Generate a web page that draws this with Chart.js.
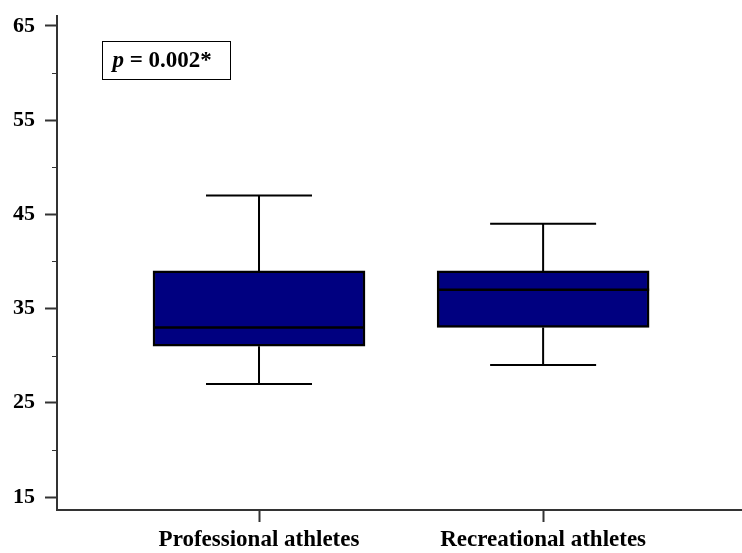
<!DOCTYPE html>
<html lang="en">
  <head>
    <meta charset="UTF-8" />
    <title>Box plot - athletes</title>
    <script src="https://cdn.jsdelivr.net/npm/chart.js"></script>
    <style>
      html, body { margin: 0; padding: 0; background: #fff; }
      #wrap { width: 742px; height: 553px; }
    </style>
  </head>
  <body>
    <div id="wrap"><canvas id="boxChart"></canvas></div>

    <script>
      // data
      const categories = ["Professional athletes", "Recreational athletes"];
      const whiskerMin = [27, 29];
      const q1 = [31, 33];
      const median = [33, 37];
      const q3 = [39, 39];
      const whiskerMax = [47, 44];
      const yTicks = [15, 25, 35, 45, 55, 65];
      const yMinorTicks = [20, 30, 40, 50, 60];
      const pText = "0.002*";

      const serif = '"Liberation Serif", "Times New Roman", serif';
      const axisColor = "#333";
      const boxWidth = 212;

      // whiskers, medians, minor ticks and the p-value box
      const boxExtras = {
        id: "boxExtras",
        beforeDatasetsDraw(chart) {
          const { ctx, scales } = chart;
          const x = scales.x, y = scales.y;
          ctx.save();
          ctx.strokeStyle = "#000";
          ctx.lineWidth = 2;
          categories.forEach((c, i) => {
            const cx = x.getPixelForValue(i + 1);
            const half = boxWidth / 4;
            ctx.beginPath();
            ctx.moveTo(cx, y.getPixelForValue(q3[i]));
            ctx.lineTo(cx, y.getPixelForValue(whiskerMax[i]));
            ctx.moveTo(cx - half, y.getPixelForValue(whiskerMax[i]));
            ctx.lineTo(cx + half, y.getPixelForValue(whiskerMax[i]));
            ctx.moveTo(cx, y.getPixelForValue(q1[i]));
            ctx.lineTo(cx, y.getPixelForValue(whiskerMin[i]));
            ctx.moveTo(cx - half, y.getPixelForValue(whiskerMin[i]));
            ctx.lineTo(cx + half, y.getPixelForValue(whiskerMin[i]));
            ctx.stroke();
          });
          ctx.restore();
        },
        afterDatasetsDraw(chart) {
          const { ctx, scales, chartArea } = chart;
          const x = scales.x, y = scales.y;
          ctx.save();
          // medians
          ctx.strokeStyle = "#000";
          ctx.lineWidth = 2.5;
          categories.forEach((c, i) => {
            const cx = x.getPixelForValue(i + 1);
            const py = y.getPixelForValue(median[i]);
            ctx.beginPath();
            ctx.moveTo(cx - boxWidth / 2, py);
            ctx.lineTo(cx + boxWidth / 2, py);
            ctx.stroke();
          });
          // minor ticks on y axis
          ctx.strokeStyle = axisColor;
          ctx.lineWidth = 1;
          yMinorTicks.forEach((v) => {
            const py = Math.round(y.getPixelForValue(v)) + 0.5;
            ctx.beginPath();
            ctx.moveTo(chartArea.left - 5, py);
            ctx.lineTo(chartArea.left, py);
            ctx.stroke();
          });
          // p-value box
          const bx = chartArea.left + 45.5, by = chartArea.top + 25.5;
          ctx.strokeStyle = "#000";
          ctx.lineWidth = 1;
          ctx.strokeRect(bx, by, 128, 38);
          ctx.fillStyle = "#000";
          ctx.textBaseline = "middle";
          ctx.font = "italic bold 23px " + serif;
          const tx = bx + 10, ty = by + 20;
          ctx.fillText("p", tx, ty);
          const pw = ctx.measureText("p").width;
          ctx.font = "bold 23px " + serif;
          ctx.fillText(" = " + pText, tx + pw, ty);
          ctx.restore();
        },
      };

      new Chart(document.getElementById("boxChart"), {
        type: "bar",
        data: {
          datasets: [
            {
              data: categories.map((c, i) => ({ x: i + 1, y: [q1[i], q3[i]] })),
              backgroundColor: "#000080",
              borderColor: "#000",
              borderWidth: 2.5,
              borderSkipped: false,
              barThickness: boxWidth,
            },
          ],
        },
        options: {
          responsive: true,
          maintainAspectRatio: false,
          animation: false,
          layout: { padding: { top: 16, right: 0, bottom: 0, left: 0 } },
          plugins: { legend: { display: false }, tooltip: { enabled: false } },
          scales: {
            x: {
              type: "linear",
              offset: false,
              min: 0.289,
              max: 2.7,
              afterBuildTicks: (s) => { s.ticks = [{ value: 1 }, { value: 2 }]; },
              afterFit: (s) => { s.height = 43; },
              ticks: {
                callback: (v) => categories[v - 1],
                color: "#000",
                font: { family: serif, size: 23, weight: "bold" },
                padding: 4,
                maxRotation: 0,
              },
              grid: { offset: false, drawOnChartArea: false, tickLength: 12, tickWidth: 2, tickColor: axisColor },
              border: { color: axisColor, width: 2 },
            },
            y: {
              min: 13.62,
              max: 66.06,
              afterBuildTicks: (s) => { s.ticks = yTicks.map((v) => ({ value: v })); },
              afterFit: (s) => {
                s.width = 57;
                s.paddingTop = 0;
                s.paddingBottom = 0;
              },
              ticks: {
                color: "#000",
                font: { family: serif, size: 22, weight: "bold" },
                padding: 10,
              },
              grid: { drawOnChartArea: false, tickLength: 12, tickWidth: 2, tickColor: axisColor },
              border: { color: axisColor, width: 2 },
            },
          },
        },
        plugins: [boxExtras],
      });
    </script>
  </body>
</html>
